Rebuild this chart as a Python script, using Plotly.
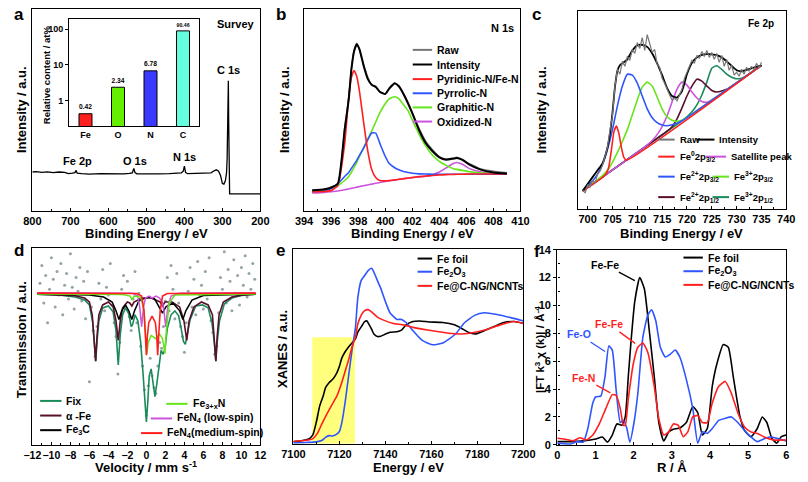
import plotly.graph_objects as go

W, H = 808, 482
FONT = "Arial, Liberation Sans, Helvetica, sans-serif"

# ---------------- (a) XPS survey ----------------
survey_be = [800, 790, 775, 760, 745, 730, 715, 705, 695, 688, 685, 682, 670, 650, 620, 590, 560, 545, 537, 533,
             530, 525, 500, 470, 440, 420, 408, 403, 400, 397, 392, 370, 345, 330, 322, 316, 310, 305, 300, 296,
             292, 289, 287.5, 286, 285, 284.3, 283.5, 282.5, 281, 260, 230, 200]
survey_int = [19.2, 19.4, 19.0, 19.3, 18.9, 19.2, 19.0, 18.4, 18.6, 18.9, 20.0, 18.6, 18.4, 18.2, 18.4, 18.2, 18.3, 18.5, 18.8, 21.0,
              18.9, 18.3, 18.2, 18.3, 18.4, 18.6, 18.8, 19.6, 22.1, 19.0, 18.4, 18.5, 18.6, 18.8, 19.8, 20.3, 19.6, 17.5, 13.5, 13.2,
              15.0, 19.0, 26.0, 40.0, 55.0, 64.4, 45.0, 15.0, 8.4, 8.4, 8.4, 8.4]
elements = ["Fe", "O", "N", "C"]
content = [0.42, 2.34, 6.78, 90.46]
element_colors = ["#ff1f1f", "#66ee00", "#3a3aff", "#66ffdd"]

# ---------------- (b) N 1s ----------------
n1s_be = [394.6, 395.5, 396, 396.5, 397, 397.3, 397.5, 397.7, 397.9, 398.1, 398.4, 398.7, 399, 399.3, 399.6, 400, 400.3,
          400.7, 401, 401.3, 401.7, 402, 402.5, 403, 403.5, 404, 404.5, 405, 405.3, 405.7, 406.2, 407, 408, 409]
n1s_raw = [10.0, 10.4, 11.8, 13.0, 41, 56, 70.5, 79.5, 83, 79.5, 72.5, 66.5, 62, 61.8, 58.8, 58.0, 60.8,
           63.4, 61.5, 58.8, 53.6, 48.8, 41.0, 34.5, 30.3, 26.9, 25.7, 26.0, 26.6, 25.0, 23.4, 20.9, 19.6, 18.9]
n1s_fit = [10.2, 10.7, 11.5, 13.5, 40, 55, 70, 79, 82.5, 80, 72, 65.5, 62.5, 61.3, 59, 57.8, 60.5,
           63, 61.8, 58.5, 53, 48.4, 40, 33.5, 29.5, 26.5, 25.3, 25.8, 26.2, 25.3, 23, 20.5, 19, 18.5]
n1s_pyridinic = [9.4, 9.6, 10.0, 12.5, 33, 56, 66, 69.5, 66.5, 59, 44, 30, 20.5, 16.5, 15.0, 14.8, 15.0,
                 15.3, 15.6, 15.9, 16.2, 16.5, 16.9, 17.2, 17.5, 17.7, 17.9, 18.0, 18.1, 18.1, 18.2, 18.2, 18.2, 18.2]
n1s_pyrrolic = [9.5, 10.0, 11.0, 13.5, 17, 19, 21, 23, 25, 27.5, 31, 35, 38.5, 38.5, 33.5, 27, 23.4,
                21.3, 20.3, 19.6, 19.0, 18.6, 18.3, 18.2, 18.1, 18.1, 18.1, 18.1, 18.1, 18.1, 18.1, 18.1, 18.1, 18.1]
n1s_graphitic = [9.7, 10.2, 11, 12.5, 15, 17, 19, 21.5, 24, 27, 31, 35.5, 39.5, 44, 48.5, 53, 55.5,
                 56.5, 55.5, 53, 49.5, 45, 38, 32, 27.5, 24.5, 22.5, 21, 20.5, 20, 19.4, 18.8, 18.4, 18.2]
n1s_oxidized = [8.8, 9.1, 9.4, 9.8, 10.4, 10.8, 11.1, 11.4, 11.7, 12.0, 12.4, 12.8, 13.2, 13.6, 14.0, 14.5, 14.8,
                15.2, 15.5, 15.8, 16.1, 16.4, 16.8, 17.1, 17.9, 19.2, 21.2, 23.3, 23.9, 23.0, 21.0, 19.3, 18.4, 18.2]

# ---------------- (c) Fe 2p ----------------
fe2p_raw_be = [699, 699.5, 700, 700.5, 701, 701.5, 702, 702.5, 703, 703.5, 704, 704.5, 705, 705.5, 706, 706.5, 707, 707.5,
               708, 708.5, 709, 709.5, 710, 710.5, 711, 711.5, 712, 712.5, 713, 713.5, 714, 714.5, 715, 715.5, 716, 716.5,
               717, 717.5, 718, 718.5, 719, 719.5, 720, 720.5, 721, 721.5, 722, 722.5, 723, 723.5, 724, 724.5, 725, 725.5,
               726, 726.5, 727, 727.5, 728, 728.5, 729, 729.5, 730, 730.5, 731, 731.5, 732, 732.5, 733, 733.5, 734, 734.5, 735]
fe2p_raw = [9.5, 8.0, 12.0, 11.0, 14.5, 13.0, 17.5, 19.0, 22.0, 26.5, 31.0, 40.0, 47.0, 62.0, 70.5, 68.0, 74.5, 72.0,
            77.0, 75.0, 80.5, 78.5, 84.0, 81.0, 86.5, 80.0, 88.0, 83.5, 79.0, 80.5, 73.0, 71.5, 66.0, 63.5, 60.0, 57.5,
            55.0, 56.0, 54.5, 58.0, 60.5, 66.0, 69.0, 72.5, 75.0, 73.5, 77.5, 76.0, 79.5, 77.0, 80.0, 76.5, 79.0, 75.5,
            78.5, 74.0, 77.5, 72.0, 75.5, 70.0, 72.5, 67.5, 69.0, 67.0, 70.5, 68.0, 71.5, 69.5, 72.0, 70.0, 73.5, 71.0, 74.0]
fe2p_fit_be = [699, 700, 701, 702, 703, 704, 704.5, 705, 705.5, 706, 706.5, 707, 708, 709, 710, 711, 712, 713, 714, 715,
               716, 717, 718, 719, 720, 721, 722, 723, 724, 725, 726, 727, 728, 729, 730, 731, 732, 733, 734, 735]
fe2p_fit = [9.0, 12.5, 16, 19.5, 23, 31, 38, 48.4, 61.5, 69.7, 72.5, 73.5, 75.5, 80, 82.6, 82.8, 81.8, 78.5, 73.5, 67.5,
            61, 57, 56.2, 59.5, 68, 73.8, 76.5, 77.8, 78.2, 78, 77.6, 76.5, 74.5, 72.2, 70, 69.5, 70.2, 71, 71.8, 72.5]
fe0_be = [699, 703.5, 704.2, 704.8, 705.3, 705.8, 706.3, 706.8, 707.3, 707.8, 735]
fe0_32 = [9.0, 17.0, 20.5, 30, 39, 41.8, 38, 31, 26, 24.6, 72.5]
fe2_32_be = [699, 700, 701, 702, 703, 704, 705, 706, 707, 708, 709, 710, 711, 712, 713, 714, 715, 716, 717, 718, 719, 720, 735]
fe2_32 = [9.2, 11.5, 14, 17.5, 22.5, 30, 40, 52, 62, 68, 67.5, 63.5, 57, 50.5, 46, 43.5, 42.3, 42, 42.5, 43.2, 44.5, 46.1, 72.5]
fe3_32_be = [699, 701, 702, 703, 704, 705, 706, 707, 708, 709, 710, 711, 712, 713, 714, 715, 716, 717, 718, 719, 720, 735]
fe3_32 = [9.0, 12.6, 14.6, 16.8, 19.5, 23.5, 28.5, 34, 40, 47.5, 55, 61.5, 64, 62, 56.5, 50.5, 46.5, 44.8, 44.2, 44.8, 46.2, 72.5]
sat_be = [699, 711, 712, 713, 714, 715, 716, 717, 718, 719, 720, 721, 722, 723, 724, 725, 726, 735]
sat = [9.0, 30.3, 32.3, 34.5, 37.5, 41.5, 47, 54, 60.5, 64, 62.5, 59, 56, 54.2, 53.8, 55, 56.7, 72.5]
fe2_12_be = [699, 716, 717, 718, 719, 720, 721, 722, 723, 724, 725, 726, 727, 728, 735]
fe2_12 = [9.0, 39.2, 41.5, 45.5, 51, 57, 62, 65.5, 64.5, 62, 59.8, 59, 59.5, 60.4, 72.5]
fe3_12_be = [699, 719, 720, 721, 722, 723, 724, 725, 726, 727, 728, 729, 730, 731, 732, 733, 734, 735]
fe3_12 = [9.0, 44.5, 46.5, 49, 52.5, 57.5, 64, 71, 72.3, 70.5, 68, 66.5, 65.7, 66, 67.3, 69, 70.7, 72.5]

# ---------------- (d) Mossbauer ----------------
moss_exp_v = [-11.2, -11.0, -10.8, -10.6, -10.4, -10.2, -10.0, -9.8, -9.6, -9.4,
              -9.2, -9.0, -8.8, -8.6, -8.4, -8.2, -8.0, -7.8, -7.6, -7.4,
              -7.2, -7.0, -6.8, -6.6, -6.4, -6.2, -6.0, -5.8, -5.6, -5.4,
              -5.2, -5.0, -4.8, -4.6, -4.4, -4.2, -4.0, -3.8, -3.6, -3.4,
              -3.2, -3.0, -2.8, -2.6, -2.4, -2.2, -2.0, -1.8, -1.6, -1.4,
              -1.2, -1.0, -0.8, -0.6, -0.4, -0.2, 0.0, 0.2, 0.4, 0.6,
              0.8, 1.0, 1.2, 1.4, 1.6, 1.8, 2.0, 2.2, 2.4, 2.6,
              2.8, 3.0, 3.2, 3.4, 3.6, 3.8, 4.0, 4.2, 4.4, 4.6,
              4.8, 5.0, 5.2, 5.4, 5.6, 5.8, 6.0, 6.2, 6.4, 6.6,
              6.8, 7.0, 7.2, 7.4, 7.6, 7.8, 8.0, 8.2, 8.4, 8.6,
              8.8, 9.0, 9.2, 9.4, 9.6, 9.8, 10.0, 10.2, 10.4, 10.6,
              10.8, 11.0, 11.2, 11.4]
moss_exp = [82, 91, 72, 86, 62, 79, 95, 84, 70, 88,
            76, 92, 66, 81, 87, 74, 97, 80, 69, 85,
            78, 90, 73, 83, 64, 88, 32, 70, 58, 45,
            60, 82, 74, 89, 68, 80, 76, 92, 71, 62,
            55, 36, 52, 79, 86, 70, 83, 65, 58, 74,
            88, 62, 77, 50, 40, 28, 15, 30, 44, 35,
            29, 26, 40, 52, 49, 60, 73, 85, 68, 91,
            79, 64, 87, 72, 60, 55, 47, 62, 78, 90,
            70, 84, 66, 93, 76, 81, 69, 88, 74, 95,
            63, 57, 46, 50, 67, 85, 79, 98, 72, 89,
            83, 68, 94, 77, 86, 71, 90, 81, 96, 75,
            87, 79, 92, 84]
fix_v = [-11.5, -9, -7.5, -6.5, -6.0, -5.65, -5.45, -5.34, -5.2, -5.0, -4.6, -4.0, -3.5, -3.2, -2.96, -2.75, -2.5, -2.2,
         -1.85, -1.6, -1.45, -1.2, -0.9, -0.6, -0.35, -0.15, 0.0, 0.15, 0.3, 0.5, 0.7, 0.9, 1.1, 1.35, 1.55, 1.75, 1.95,
         2.2, 2.6, 3.0, 3.4, 3.7, 3.9, 4.1, 4.3, 4.6, 5.2, 5.9, 6.5, 6.9, 7.15, 7.31, 7.45, 7.7, 8.2, 9, 10, 11.5]
fix_t = [76.4, 76.0, 75.0, 73.5, 71, 62, 50, 42.5, 52, 63, 69.5, 70.5, 67.5, 58, 40.5, 56, 66, 69.5,
         66.5, 60, 61, 66, 63, 52, 36, 20, 11.6, 22, 35, 38.5, 32, 24.5, 31, 42, 48, 46, 48.5,
         59, 66, 68, 65.5, 58, 52.5, 51, 56, 63.5, 70.5, 71, 69.5, 62, 52, 42.5, 52, 63, 71.5, 74.5, 75.8, 76.4]
afe_v = [-11.5, -9, -7.5, -6.5, -6.0, -5.7, -5.5, -5.34, -5.2, -5.0, -4.6, -4.0, -3.5, -3.2, -2.96, -2.75, -2.5, -2.0,
         -1.75, -1.53, -1.3, -0.5, 0.5, 1.45, 1.7, 1.95, 2.7, 3.5, 3.95, 4.25, 4.5, 5.0, 5.8, 6.5, 6.95, 7.15, 7.31,
         7.45, 7.65, 8.1, 9, 10, 11.5]
afe_t = [76.5, 76.2, 75.7, 74.5, 72.5, 66, 55, 42.5, 55, 66, 71, 72.5, 70, 63, 53, 63, 69.5, 72.5,
         72, 70.5, 72.5, 74.5, 74.5, 72.5, 70.5, 72.5, 72.5, 70, 63, 53, 63, 70, 72.5, 71, 66, 55, 42.5,
         55, 66, 72.5, 75, 76, 76.5]
fe3c_v = [-11.5, -6, -4.5, -3.6, -3.2, -2.89, -2.6, -2.2, -1.85, -1.53, -1.25, -0.8, -0.27, 0.3, 0.85, 1.35, 1.7,
          2.05, 2.8, 3.5, 3.84, 4.15, 4.8, 6, 11.5]
fe3c_t = [76.5, 76, 75, 72.5, 68, 63.6, 68, 71, 68, 63.6, 68, 73, 74.2, 75, 74.2, 70, 66.9,
          70, 72, 68, 63.6, 68, 73.5, 75.8, 76.5]
fexn_v = [-11.5, -2.5, -1.7, -1.5, -1.3, -0.6, -0.25, -0.05, 0.05, 0.2, 0.5, 0.95, 1.4, 1.7, 1.85, 1.95, 2.1, 2.4, 3, 11.5]
fexn_t = [76.5, 76.3, 75.5, 73.5, 75.5, 75, 68, 55, 46, 52, 55.5, 54, 56, 54, 49, 46.3, 58, 72, 76, 76.5]
fen4_low_v = [-11.5, -1.5, -0.9, -0.7, -0.5, -0.3, -0.1, 0.3, 0.6, 1.0, 1.4, 1.7, 1.85, 2.04, 2.25, 2.6, 3.5, 11.5]
fen4_low_t = [77.2, 77, 75.5, 70, 60, 70, 74.5, 75.5, 74.5, 75.5, 74.5, 72, 68, 59.8, 70, 75.5, 77, 77.2]
fen4_med_v = [-11.5, -1, -0.5, -0.25, -0.1, 0.0, 0.1, 0.25, 0.6, 0.95, 1.09, 1.19, 1.29, 1.45, 1.7, 2.2, 11.5]
fen4_med_t = [77, 76.8, 75.5, 68, 55, 45.5, 55, 62, 65.3, 62, 55, 45.5, 55, 68, 75.5, 76.8, 77]

# ---------------- (e) XANES ----------------
foil_e = [7100, 7104, 7107, 7108.5, 7110, 7111.5, 7113, 7114, 7115.5, 7117, 7118.5, 7120, 7121, 7122.5, 7124, 7125.5,
          7127, 7128, 7129.5, 7131, 7132, 7132.5, 7134, 7135, 7136.5, 7138, 7139.5, 7142, 7145, 7147, 7149, 7152,
          7155, 7159, 7165, 7170, 7173, 7176, 7179, 7183, 7187, 7191.5, 7196, 7200]
foil_mu = [1.0, 1.7, 2.7, 4.7, 11.3, 19.7, 24.7, 28.8, 31.3, 33.0, 35.5, 39.7, 43.8, 47.2, 49.7, 51.7,
           53.8, 57.2, 60.0, 62.7, 63.0, 62.0, 58.8, 56.3, 55.0, 55.2, 56.0, 57.2, 57.5, 58.3, 61.0, 62.7,
           63.0, 62.5, 62.2, 61.0, 59.3, 57.2, 56.3, 58.0, 60.0, 62.2, 62.7, 61.7]
fe2o3_e = [7100, 7105.5, 7110, 7112.5, 7114, 7115.5, 7117, 7118.5, 7120, 7121, 7122.5, 7124, 7125.5, 7127, 7128,
           7129.5, 7131, 7132.5, 7134, 7135, 7136.5, 7138, 7140, 7142, 7145, 7147, 7149, 7152, 7156, 7160.5, 7165,
           7170.5, 7174.5, 7179, 7183, 7188.5, 7194.5, 7200]
fe2o3_mu = [0.5, 0.7, 1.0, 1.8, 3.3, 4.2, 4.0, 4.7, 6.3, 10.5, 21.3, 34.7, 48.0, 59.7, 74.7,
            83.8, 86.3, 88.8, 90.0, 88.0, 83.8, 79.7, 73.0, 67.2, 63.8, 63.8, 62.2, 58.0, 53.0, 50.8, 51.7,
            56.3, 62.2, 66.0, 67.2, 66.3, 64.7, 63.0]
sample_e = [7100, 7105.5, 7108.5, 7110.5, 7112.5, 7115, 7117, 7119, 7121, 7122.5, 7124, 7125.5, 7127, 7128, 7129.5,
            7131, 7132.5, 7134, 7136.5, 7139.5, 7143.5, 7148, 7152, 7156, 7162, 7167.5, 7173, 7179, 7184.5, 7190,
            7196, 7200]
sample_mu = [1.3, 1.8, 2.7, 5.5, 10.5, 16.3, 20.5, 24.7, 31.3, 37.2, 43.0, 49.7, 54.7, 61.3, 66.0,
             68.3, 68.8, 67.7, 65.0, 63.3, 61.7, 61.0, 59.7, 58.8, 57.7, 56.7, 56.3, 57.2, 58.8, 61.0,
             62.7, 61.7]
preedge_range = [7108.2, 7126.8]
preedge_top = 54.7

# ---------------- (f) FT-EXAFS ----------------
foil_r = [0, 0.34, 0.68, 1.01, 1.18, 1.31, 1.44, 1.56, 1.69, 1.78, 1.86, 1.94, 2.03, 2.16, 2.28, 2.41, 2.54, 2.66, 2.79,
          2.92, 3.04, 3.21, 3.38, 3.55, 3.68, 3.8, 3.93, 4.06, 4.18, 4.35, 4.48, 4.61, 4.78, 4.9, 5.07, 5.24, 5.37,
          5.49, 5.62, 5.75, 5.87, 6.0]
foil_ft = [0.23, 0.23, 0.28, 0.42, 0.56, 0.19, 0.7, 1.5, 1.4, 2.0, 4.9, 7.7, 10.3, 12.0, 11.2, 8.2, 4.9, 1.6, 0.28,
           0.93, 1.12, 1.2, 1.6, 2.75, 2.3, 0.7, 1.17, 4.2, 5.8, 7.2, 7.0, 4.9, 2.1, 1.05, 0.58, 1.17, 2.0,
           1.6, 0.47, 0.12, 0.58, 0.7]
fe2o3_r = [0, 0.34, 0.51, 0.68, 0.8, 0.93, 1.01, 1.14, 1.25, 1.35, 1.44, 1.54, 1.65, 1.73, 1.82, 1.9, 2.01, 2.11,
           2.24, 2.37, 2.47, 2.58, 2.7, 2.83, 2.96, 3.09, 3.21, 3.38, 3.55, 3.68, 3.8, 3.93, 4.06, 4.23, 4.4, 4.56,
           4.73, 4.9, 5.07, 5.24, 5.41, 5.58, 5.75, 6.0]
fe2o3_ft = [0.12, 0.05, 0.23, 0.19, 1.17, 3.0, 3.45, 3.5, 4.9, 7.1, 6.8, 4.0, 1.6, 1.75, 1.2, 0.19, 1.6, 3.7,
            7.7, 9.3, 9.7, 8.9, 7.0, 6.3, 6.5, 6.8, 6.3, 4.7, 2.6, 0.12, 0.93, 0.82, 1.17, 1.75, 1.9, 2.0,
            1.6, 1.05, 0.58, 0.23, 0.42, 0.58, 0.47, 0.28]
sample_r = [0, 0.17, 0.42, 0.59, 0.76, 0.93, 1.1, 1.27, 1.44, 1.54, 1.65, 1.73, 1.78, 1.86, 1.99, 2.11, 2.24, 2.37,
            2.54, 2.66, 2.79, 2.92, 3.04, 3.17, 3.3, 3.42, 3.55, 3.68, 3.8, 3.93, 4.06, 4.23, 4.4, 4.56, 4.73, 4.9,
            5.07, 5.24, 5.41, 5.66, 6.0]
sample_ft = [0.47, 0.42, 0.28, 0.51, 0.35, 0.7, 1.5, 2.6, 3.6, 3.55, 2.6, 1.4, 1.4, 3.3, 5.8, 7.0, 7.3, 6.65,
             4.2, 1.87, 0.7, 0.93, 1.5, 1.4, 0.58, 0.93, 2.0, 2.1, 1.6, 1.6, 3.0, 4.2, 4.55, 3.7, 2.3, 1.3,
             0.93, 0.82, 0.58, 0.35, 0.35]

# ---------------- colours ----------------
RED = "#ff1f1f"
BLUE = "#2f55ff"
GREEN = "#66e61a"
PURPLE = "#cc55dd"
GREY = "#777777"
MAROON = "#5a0f2c"
DKGREEN = "#1b8a5a"


def dx(a, b):
    return [a / W, b / W]


def dy(top, bottom):
    return [1 - bottom / H, 1 - top / H]


def px(x):
    return x / W


def py(y):
    return 1 - y / H


def bold(size):
    return dict(family=FONT, size=size, color="black", weight="bold")


def axis(domain, anchor, **kw):
    d = dict(domain=domain, anchor=anchor, showline=True, linecolor="black", linewidth=1.4, mirror=True,
             showgrid=False, zeroline=False, ticks="inside", ticklen=3, tickwidth=1.2, tickcolor="black",
             tickfont=bold(11), tickangle=0, fixedrange=True)
    d.update(kw)
    return d


def minor(dt):
    return dict(ticks="inside", ticklen=2, tickwidth=1, tickcolor="black", dtick=dt, showgrid=False)


NOY = dict(ticks="", showticklabels=False)

fig = go.Figure()


def line(x, y, color, xa, ya, width=1.6, shape="spline"):
    fig.add_trace(go.Scatter(x=x, y=y, mode="lines",
                             line=dict(color=color, width=width, shape=shape, smoothing=0.5),
                             xaxis=xa, yaxis=ya, showlegend=False, hoverinfo="skip"))


# (a)
line(survey_be, survey_int, "black", "x", "y", 1.3, "linear")
fig.add_trace(go.Bar(x=elements, y=content, marker=dict(color=element_colors, line=dict(color="black", width=1)),
                     width=0.4, texttemplate="%{y:.2f}", textposition="outside", cliponaxis=False,
                     textfont=bold(9), xaxis="x2", yaxis="y2", showlegend=False, hoverinfo="skip"))
# (b)
line(n1s_be, n1s_oxidized, PURPLE, "x3", "y3")
line(n1s_be, n1s_graphitic, GREEN, "x3", "y3")
line(n1s_be, n1s_pyrrolic, BLUE, "x3", "y3")
line(n1s_be, n1s_pyridinic, RED, "x3", "y3")
line(n1s_be, n1s_raw, GREY, "x3", "y3", 1.4)
line(n1s_be, n1s_fit, "black", "x3", "y3", 2.0)
# (c)
line(fe3_12_be, fe3_12, DKGREEN, "x4", "y4")
line(fe2_12_be, fe2_12, MAROON, "x4", "y4")
line(sat_be, sat, PURPLE, "x4", "y4")
line(fe3_32_be, fe3_32, GREEN, "x4", "y4")
line(fe2_32_be, fe2_32, BLUE, "x4", "y4")
line(fe0_be, fe0_32, RED, "x4", "y4")
line(fe2p_fit_be, fe2p_fit, "black", "x4", "y4", 1.8)
line(fe2p_raw_be, fe2p_raw, GREY, "x4", "y4", 1.2, "linear")
# (d)
fig.add_trace(go.Scatter(x=moss_exp_v, y=moss_exp, mode="markers", marker=dict(color="#93a3a8", size=3),
                         xaxis="x5", yaxis="y5", showlegend=False, hoverinfo="skip"))
line(fix_v, fix_t, DKGREEN, "x5", "y5", 1.6, "linear")
line(afe_v, afe_t, MAROON, "x5", "y5", 1.6, "linear")
line(fe3c_v, fe3c_t, "black", "x5", "y5", 1.5, "linear")
line(fen4_low_v, fen4_low_t, PURPLE, "x5", "y5", 1.5, "linear")
line(fexn_v, fexn_t, GREEN, "x5", "y5", 1.5, "linear")
line(fen4_med_v, fen4_med_t, RED, "x5", "y5", 1.6, "linear")
# (e)
line(foil_e, foil_mu, "black", "x6", "y6")
line(fe2o3_e, fe2o3_mu, BLUE, "x6", "y6")
line(sample_e, sample_mu, RED, "x6", "y6")
# (f)
line(foil_r, foil_ft, "black", "x7", "y7")
line(fe2o3_r, fe2o3_ft, BLUE, "x7", "y7")
line(sample_r, sample_ft, RED, "x7", "y7")

shapes = [dict(type="rect", xref="x6", yref="y6", x0=preedge_range[0], x1=preedge_range[1], y0=0, y1=preedge_top,
               fillcolor="rgba(255,255,70,0.7)", line=dict(width=0), layer="below")]
annotations = []


def text(x, y, s, size=11, xanchor="center", angle=0, color="black"):
    annotations.append(dict(xref="paper", yref="paper", x=px(x), y=py(y), text=s, showarrow=False,
                            xanchor=xanchor, yanchor="middle", textangle=angle,
                            font=dict(family=FONT, size=size, color=color, weight="bold")))


def key(x0, x1, y, color, label, size=11):
    shapes.append(dict(type="line", xref="paper", yref="paper", x0=px(x0), x1=px(x1), y0=py(y), y1=py(y),
                       line=dict(color=color, width=2)))
    text(x1 + 3, y, label, size, "left")


# panel letters
for lx, ly, s in [(7, 9, "a"), (277, 9, "b"), (541, 9, "c"), (7, 251, "d"), (277, 251, "e"), (541, 252, "f")]:
    text(lx, ly, s, 17)

# axis titles
text(138.5, 233, "Binding Energy / eV", 13)
text(412.5, 233, "Binding Energy / eV", 13)
text(690.5, 233, "Binding Energy / eV", 13)
text(138.5, 473, "Velocity / mm s<sup>-1</sup>", 13)
text(408.5, 473, "Energy / eV", 13)
text(680, 473, "R / Å", 13)
text(10, 106, "Intensity / a.u.", 13, angle=-90)
text(281, 106, "Intensity / a.u.", 13, angle=-90)
text(546, 106, "Intensity / a.u.", 13, angle=-90)
text(10, 342, "Transmission / a.u.", 13, angle=-90)
text(278, 352, "XANES / a.u.", 13, angle=-90)
text(544, 352, "|FT k<sup>3</sup> χ (k)| / Å<sup>-4</sup>", 11.5, angle=-90)
text(35, 70, "Relative content / at%", 9.5, angle=-90)

# panel a labels
text(231, 18, "Survey", 11)
text(223, 66, "C 1s", 11)
text(68, 159, "Fe 2p", 11)
text(127, 159, "O 1s", 11)
text(178, 155, "N 1s", 11)
# panel b
text(506, 23, "N 1s", 11)
key(413, 433, 45, GREY, "Raw", 10.5)
key(413, 433, 60, "black", "Intensity", 10.5)
key(413, 433, 75, RED, "Pyridinic-N/Fe-N", 10.5)
key(413, 433, 89.5, BLUE, "Pyrrolic-N", 10.5)
key(413, 433, 104, GREEN, "Graphitic-N", 10.5)
key(413, 433, 118.5, PURPLE, "Oxidized-N", 10.5)
# panel c
text(772, 18, "Fe 2p", 10)
key(666, 683, 137, GREY, "Raw", 9.5)
key(706, 724, 137, "black", "Intensity", 9.5)
key(666, 683, 154.5, RED, "Fe<sup>0</sup>2p<sub>3/2</sub>", 9.5)
key(715, 736, 154.5, PURPLE, "Satellite peak", 9.5)
key(666, 683, 175, BLUE, "Fe<sup>2+</sup>2p<sub>3/2</sub>", 9.5)
key(722, 739, 175, GREEN, "Fe<sup>3+</sup>2p<sub>3/2</sub>", 9.5)
key(666, 683, 196, MAROON, "Fe<sup>2+</sup>2p<sub>1/2</sub>", 9.5)
key(722, 739, 196, DKGREEN, "Fe<sup>3+</sup>2p<sub>1/2</sub>", 9.5)
# panel d
key(29, 51, 405, DKGREEN, "Fix", 10.5)
key(29, 51, 420, MAROON, "α -Fe", 10.5)
key(29, 51, 435, "black", "Fe<sub>3</sub>C", 10.5)
key(159, 181, 408, GREEN, "Fe<sub>3+x</sub>N", 10.5)
key(143, 165, 423, PURPLE, "FeN<sub>4</sub> (low-spin)", 10.5)
key(133, 155, 438, RED, "FeN<sub>4</sub>(medium-spin)", 10.5)
# panel e
key(418, 433, 259, "black", "Fe foil", 10.5)
key(418, 433, 272.5, BLUE, "Fe<sub>2</sub>O<sub>3</sub>", 10.5)
key(418, 433, 287, RED, "Fe@C-NG/NCNTs", 10.5)
# panel f
key(692, 712, 258, "black", "Fe foil", 10.5)
key(692, 712, 272, BLUE, "Fe<sub>2</sub>O<sub>3</sub>", 10.5)
key(692, 712, 286, RED, "Fe@C-NG/NCNTs", 10.5)


def pointer(x, y, ax, ay, s, color):
    annotations.append(dict(xref="x7", yref="y7", x=x, y=y, ax=ax, ay=ay, text=s, showarrow=True,
                            arrowhead=0, arrowwidth=1.3, arrowcolor=color, standoff=0,
                            font=dict(family=FONT, size=10.5, color=color, weight="bold")))


pointer(2.03, 11.78, -30, -16, "Fe-Fe", "black")
pointer(2.04, 7.28, -26, -19, "Fe-Fe", RED)
pointer(1.25, 6.70, -26, -17, "Fe-O", BLUE)
pointer(1.39, 3.73, -27, -15, "Fe-N", RED)

fig.update_layout(
    width=W, height=H, margin=dict(l=0, r=0, t=0, b=0),
    paper_bgcolor="white", plot_bgcolor="white", showlegend=False, hovermode=False,
    shapes=shapes, annotations=annotations,
    xaxis=axis(dx(21, 256), "y", range=[800, 200], dtick=100, minor=minor(50)),
    yaxis=axis(dy(3, 210), "x", range=[0, 100], **NOY),
    xaxis2=axis(dx(59, 193), "y2", type="category", ticks="", tickfont=bold(9)),
    yaxis2=axis(dy(13, 123), "x2", type="log", range=[-0.72, 2.30], tickvals=[1, 10, 100],
                ticktext=["1", "10", "100"], tickfont=bold(9), ticks="outside", ticklen=3),
    xaxis3=axis(dx(301, 524), "y3", range=[394, 410], dtick=2, minor=minor(1)),
    yaxis3=axis(dy(3, 210), "x3", range=[0, 100], **NOY),
    xaxis4=axis(dx(583, 798), "y4", range=[698, 740], tick0=700, dtick=5, minor=minor(2.5)),
    yaxis4=axis(dy(5, 208), "x4", range=[0, 100], **NOY),
    xaxis5=axis(dx(21, 256), "y5", range=[-12, 12], dtick=2, minor=minor(1), tickfont=bold(10.5)),
    yaxis5=axis(dy(248, 450), "x5", range=[0, 100], **NOY),
    xaxis6=axis(dx(290, 527), "y6", range=[7100, 7200], dtick=20, minor=minor(10)),
    yaxis6=axis(dy(249, 449), "x6", range=[0, 100], **NOY),
    xaxis7=axis(dx(562, 798), "y7", range=[0, 6], dtick=1, minor=minor(0.5)),
    yaxis7=axis(dy(250, 450), "x7", range=[0, 14], dtick=2, minor=minor(1), ticks="outside", ticklen=3),
)

fig.write_html("out.html", config={"displayModeBar": False},
               post_script="document.body.style.margin='0px';")
